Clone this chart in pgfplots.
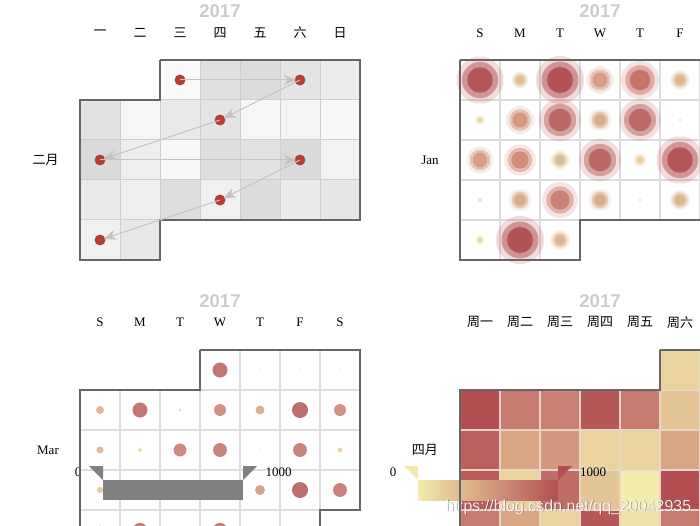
\documentclass[border=0pt]{standalone}
\usepackage{pgfplots}
\pgfplotsset{compat=1.18}
\usepackage{pgfplotstable}
\usepackage{fontspec}
\setmainfont{Liberation Serif}
\newfontfamily\cjk{Noto Sans CJK SC}
\newfontfamily\hv{Liberation Sans}
\usetikzlibrary{arrows.meta}

\definecolor{cellgrey}{RGB}{206,206,206}
\definecolor{gridgrey}{RGB}{221,221,221}
\definecolor{outl}{RGB}{102,102,102}
\definecolor{dotred}{RGB}{183,58,53}
\definecolor{arrowgrey}{RGB}{196,196,196}
\definecolor{ttl}{RGB}{204,204,204}
\definecolor{vmgrey}{RGB}{128,128,128}
\definecolor{vmy}{RGB}{243,234,170}
\definecolor{vmm}{RGB}{216,165,133}
\definecolor{vmr}{RGB}{178,79,82}
\definecolor{heatline}{RGB}{230,214,200}

\newcommand\lab{\fontsize{13}{13}\selectfont}
\newcommand\ttlfont{\hv\bfseries\fontsize{18.5}{18.5}\selectfont}

\pgfplotsset{
  colormap={greys}{rgb255(0cm)=(251,251,251); rgb255(1cm)=(216,216,216)},
  colormap={ecred}{rgb255(0cm)=(246,238,174); rgb255(1cm)=(233,212,159); rgb255(2cm)=(216,165,133); rgb255(3cm)=(200,124,112); rgb255(4cm)=(178,78,82)},
  calbase/.style={
    scale only axis, width=280pt, height=200pt,
    xmin=0, xmax=7, ymin=0, ymax=5, y dir=reverse,
    hide axis, clip=false, set layers,
    point meta min=0, point meta max=1000,
    anchor=center,
  },
  arr/.style={on layer=axis foreground, arrowgrey, line width=1pt, mark=none, shorten >=4pt, -{Stealth[length=12pt,width=10pt,inset=3.5pt]}},
  outline/.style={on layer=axis foreground, outl, line width=2pt, mark=none, line join=miter},
  bub/.style={scatter, only marks, mark=*, point meta=\thisrow{v},
    scatter/use mapped color={draw=none, fill=mapped color},
    mark options={draw opacity=0, line width=0pt}},
}

% Feb (grey heat), x = column centre, y = row centre
\pgfplotstableread{
x y v
2.5 0.5 30
3.5 0.5 770
4.5 0.5 890
5.5 0.5 660
6.5 0.5 430
0.5 1.5 710
1.5 1.5 140
2.5 1.5 490
3.5 1.5 660
4.5 1.5 140
5.5 1.5 200
6.5 1.5 90
0.5 2.5 940
1.5 2.5 370
2.5 2.5 90
3.5 2.5 830
4.5 2.5 710
5.5 2.5 940
6.5 2.5 260
0.5 3.5 490
1.5 3.5 370
2.5 3.5 830
3.5 3.5 310
4.5 3.5 890
5.5 3.5 460
6.5 3.5 600
0.5 4.5 310
1.5 4.5 540
}\febT

% Jan bubbles
\pgfplotstableread{
x y v
0.5 0.5 980
1.5 0.5 360
2.5 0.5 1000
3.5 0.5 570
4.5 0.5 800
5.5 0.5 410
0.5 1.5 200
1.5 1.5 580
2.5 1.5 880
3.5 1.5 460
4.5 1.5 870
5.5 1.5 80
0.5 2.5 560
1.5 2.5 660
2.5 2.5 390
3.5 2.5 880
4.5 2.5 270
5.5 2.5 980
0.5 3.5 120
1.5 3.5 460
2.5 3.5 740
3.5 3.5 460
4.5 3.5 80
5.5 3.5 420
0.5 4.5 190
1.5 4.5 1000
2.5 4.5 410
}\janT

% Mar dots
\pgfplotstableread{
x y v
3.5 0.5 940
4.5 0.5 100
5.5 0.5 100
6.5 0.5 100
0.5 1.5 500
1.5 1.5 940
2.5 1.5 190
3.5 1.5 750
4.5 1.5 560
5.5 1.5 1000
6.5 1.5 750
0.5 2.5 440
1.5 2.5 250
2.5 2.5 810
3.5 2.5 870
4.5 2.5 100
5.5 2.5 870
6.5 2.5 310
0.5 3.5 380
1.5 3.5 600
2.5 3.5 300
3.5 3.5 700
4.5 3.5 620
5.5 3.5 1000
6.5 3.5 870
0.5 4.5 560
1.5 4.5 900
2.5 4.5 200
3.5 4.5 900
4.5 4.5 300
5.5 4.5 400
}\marT

% Apr heat
\pgfplotstableread{
x y v
5.5 0.5 250
6.5 0.5 400
0.5 1.5 1000
1.5 1.5 750
2.5 1.5 720
3.5 1.5 950
4.5 1.5 750
5.5 1.5 330
6.5 1.5 600
0.5 2.5 900
1.5 2.5 500
2.5 2.5 580
3.5 2.5 250
4.5 2.5 250
5.5 2.5 500
6.5 2.5 300
0.5 3.5 930
1.5 3.5 250
2.5 3.5 830
3.5 3.5 330
4.5 3.5 30
5.5 3.5 1000
6.5 3.5 500
0.5 4.5 750
1.5 4.5 500
2.5 4.5 250
3.5 4.5 950
4.5 4.5 120
5.5 4.5 750
6.5 4.5 400
}\aprT

\begin{document}
\begin{tikzpicture}[x=1pt,y=1pt]

%% ---------------- Panel A: February (grey heat + arrows)
\begin{axis}[calbase, at={(220pt,365pt)}, colormap name=greys]
\addplot[scatter, only marks, mark=square*, mark size=20pt, point meta=\thisrow{v},
  scatter/use mapped color={draw=cellgrey, fill=mapped color}, mark options={line width=1pt}]
  table[x=x,y=y] {\febT};
\addplot[outline] coordinates {(2,0) (7,0) (7,4) (2,4) (2,5) (0,5) (0,1) (2,1) (2,0)};
\addplot[arr] coordinates {(2.5,0.5) (5.5,0.5)};
\addplot[arr] coordinates {(5.5,0.5) (3.5,1.5)};
\addplot[arr] coordinates {(3.5,1.5) (0.5,2.5)};
\addplot[arr] coordinates {(0.5,2.5) (5.5,2.5)};
\addplot[arr] coordinates {(5.5,2.5) (3.5,3.5)};
\addplot[arr] coordinates {(3.5,3.5) (0.5,4.5)};
\addplot[on layer=axis foreground, only marks, mark=*, mark size=5.2pt, color=dotred] coordinates {(2.5,0.5) (5.5,0.5) (3.5,1.5) (0.5,2.5) (5.5,2.5) (3.5,3.5) (0.5,4.5)};
\node[font=\ttlfont, text=ttl] at (axis cs:3.5,-1.22) {2017};
\node[font=\cjk\lab] at (axis cs:0.5,-0.675) {一};
\node[font=\cjk\lab] at (axis cs:1.5,-0.675) {二};
\node[font=\cjk\lab] at (axis cs:2.5,-0.675) {三};
\node[font=\cjk\lab] at (axis cs:3.5,-0.675) {四};
\node[font=\cjk\lab] at (axis cs:4.5,-0.675) {五};
\node[font=\cjk\lab] at (axis cs:5.5,-0.675) {六};
\node[font=\cjk\lab] at (axis cs:6.5,-0.675) {日};
\node[font=\cjk\lab] at (axis cs:-0.86,2.5) {二月};
\end{axis}

%% ---------------- Panel B: January (ripple bubbles)
\begin{axis}[calbase, at={(600pt,365pt)}, colormap name=ecred]
\addplot[only marks, mark=square*, mark size=20pt, mark options={fill=white, draw=gridgrey, line width=1.3pt}]
  coordinates {(0.5,0.5) (1.5,0.5) (2.5,0.5) (3.5,0.5) (4.5,0.5) (5.5,0.5) (6.5,0.5)
  (0.5,1.5) (1.5,1.5) (2.5,1.5) (3.5,1.5) (4.5,1.5) (5.5,1.5) (6.5,1.5)
  (0.5,2.5) (1.5,2.5) (2.5,2.5) (3.5,2.5) (4.5,2.5) (5.5,2.5) (6.5,2.5)
  (0.5,3.5) (1.5,3.5) (2.5,3.5) (3.5,3.5) (4.5,3.5) (5.5,3.5) (6.5,3.5)
  (0.5,4.5) (1.5,4.5) (2.5,4.5)};
\addplot[outline] coordinates {(0,0) (7,0) (7,4) (3,4) (3,5) (0,5) (0,0)};
\addplot[bub, fill opacity=0.2,
  visualization depends on={\thisrow{v}/77*1.85 \as \rr},
  scatter/@pre marker code/.append style={/tikz/mark size=\rr}] table[x=x,y=y] {\janT};
\addplot[bub, fill opacity=0.5,
  visualization depends on={\thisrow{v}/77*1.42 \as \rr},
  scatter/@pre marker code/.append style={/tikz/mark size=\rr}] table[x=x,y=y] {\janT};
\addplot[bub, fill opacity=0.92,
  visualization depends on={\thisrow{v}/77 \as \rr},
  scatter/@pre marker code/.append style={/tikz/mark size=\rr}] table[x=x,y=y] {\janT};
\node[font=\ttlfont, text=ttl] at (axis cs:3.5,-1.22) {2017};
\node[font=\lab] at (axis cs:0.5,-0.675) {S};
\node[font=\lab] at (axis cs:1.5,-0.675) {M};
\node[font=\lab] at (axis cs:2.5,-0.675) {T};
\node[font=\lab] at (axis cs:3.5,-0.675) {W};
\node[font=\lab] at (axis cs:4.5,-0.675) {T};
\node[font=\lab] at (axis cs:5.5,-0.675) {F};
\node[font=\lab] at (axis cs:-0.75,2.5) {Jan};
\end{axis}

%% ---------------- Panel C: March (scatter dots)
\begin{axis}[calbase, at={(220pt,75pt)}, colormap name=ecred]
\addplot[only marks, mark=square*, mark size=20pt, mark options={fill=white, draw=gridgrey, line width=1.4pt}]
  coordinates {(3.5,0.5) (4.5,0.5) (5.5,0.5) (6.5,0.5)
  (0.5,1.5) (1.5,1.5) (2.5,1.5) (3.5,1.5) (4.5,1.5) (5.5,1.5) (6.5,1.5)
  (0.5,2.5) (1.5,2.5) (2.5,2.5) (3.5,2.5) (4.5,2.5) (5.5,2.5) (6.5,2.5)
  (0.5,3.5) (1.5,3.5) (2.5,3.5) (3.5,3.5) (4.5,3.5) (5.5,3.5) (6.5,3.5)
  (0.5,4.5) (1.5,4.5) (2.5,4.5) (3.5,4.5) (4.5,4.5) (5.5,4.5)};
\addplot[outline] coordinates {(3,0) (7,0) (7,4) (6,4) (6,5) (0,5) (0,1) (3,1) (3,0)};
\addplot[bub, fill opacity=0.82,
  visualization depends on={\thisrow{v}/125 \as \rr},
  scatter/@pre marker code/.append style={/tikz/mark size=\rr}] table[x=x,y=y] {\marT};
\node[font=\ttlfont, text=ttl] at (axis cs:3.5,-1.22) {2017};
\node[font=\lab] at (axis cs:0.5,-0.69) {S};
\node[font=\lab] at (axis cs:1.5,-0.69) {M};
\node[font=\lab] at (axis cs:2.5,-0.69) {T};
\node[font=\lab] at (axis cs:3.5,-0.69) {W};
\node[font=\lab] at (axis cs:4.5,-0.69) {T};
\node[font=\lab] at (axis cs:5.5,-0.69) {F};
\node[font=\lab] at (axis cs:6.5,-0.69) {S};
\node[font=\lab] at (axis cs:-0.8,2.5) {Mar};
\end{axis}

%% ---------------- Panel D: April (colour heat)
\begin{axis}[calbase, at={(600pt,75pt)}, colormap name=ecred]
\addplot[scatter, only marks, mark=square*, mark size=20pt, point meta=\thisrow{v},
  scatter/use mapped color={draw=heatline, fill=mapped color}, mark options={line width=1.2pt}]
  table[x=x,y=y] {\aprT};
\addplot[outline] coordinates {(5,0) (7,0) (7,5) (0,5) (0,1) (5,1) (5,0)};
\node[font=\ttlfont, text=ttl] at (axis cs:3.5,-1.22) {2017};
\node[font=\cjk\lab] at (axis cs:0.5,-0.69) {周一};
\node[font=\cjk\lab] at (axis cs:1.5,-0.69) {周二};
\node[font=\cjk\lab] at (axis cs:2.5,-0.69) {周三};
\node[font=\cjk\lab] at (axis cs:3.5,-0.69) {周四};
\node[font=\cjk\lab] at (axis cs:4.5,-0.69) {周五};
\node[font=\cjk\lab] at (axis cs:5.5,-0.69) {周六};
\node[font=\cjk\lab] at (axis cs:-0.88,2.5) {四月};
\end{axis}

%% ---------------- visual map controllers
\fill[vmgrey] (103,45) rectangle (243,25);
\fill[vmgrey] (89,59) -- (103,59) -- (103,45) -- cycle;
\fill[vmgrey] (243,59) -- (257,59) -- (243,45) -- cycle;
\node[font=\lab] at (78,53) {0};
\node[font=\lab] at (278.5,53) {1000};

\shade[left color=vmy, middle color=vmm, right color=vmr] (418,45) rectangle (558,25);
\fill[vmy] (404,59) -- (418,59) -- (418,45) -- cycle;
\fill[vmr] (558,59) -- (572,59) -- (558,45) -- cycle;
\node[font=\lab] at (393,53) {0};
\node[font=\lab] at (593,53) {1000};

%% ---------------- watermark
\node[font=\hv\fontsize{16}{16}\selectfont, text=black, opacity=0.35] at (569.2,17.4) {https://blog.csdn.net/qq\_20042935};
\node[font=\hv\fontsize{16}{16}\selectfont, text=white, opacity=0.9] at (568.5,18) {https://blog.csdn.net/qq\_20042935};

\pgfresetboundingbox
\path[use as bounding box] (0,0) rectangle (700,525);
\end{tikzpicture}
\end{document}
